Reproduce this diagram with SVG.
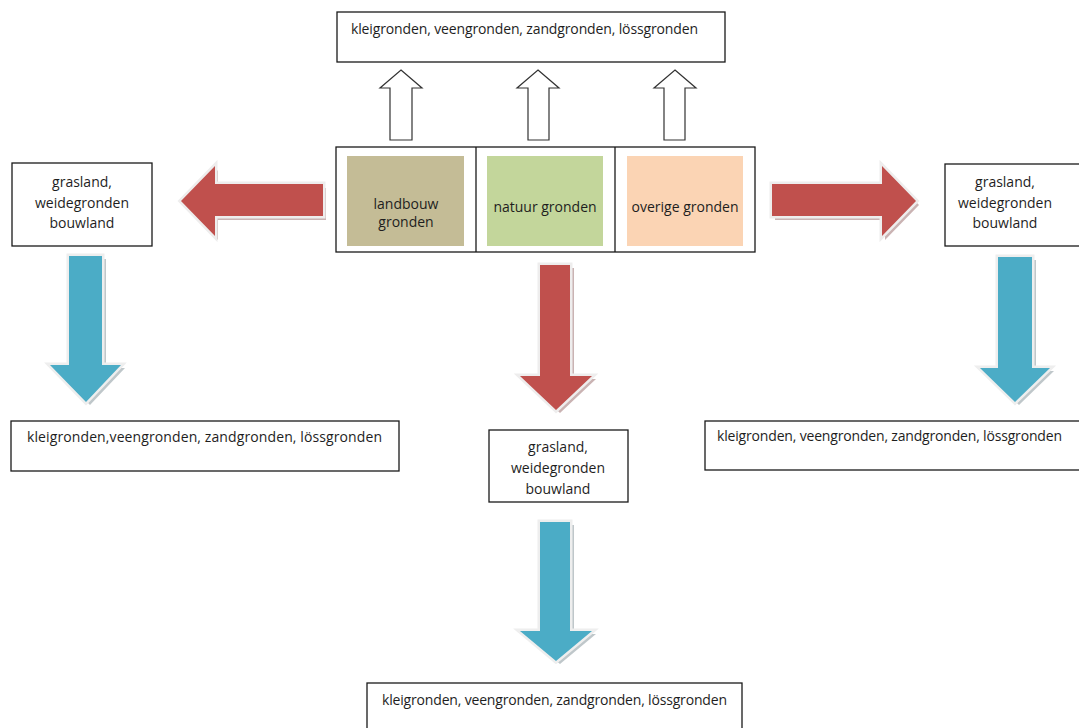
<svg xmlns="http://www.w3.org/2000/svg" width="1079" height="728" viewBox="0 0 1079 728">
<style>
.box{fill:#fff;stroke:#1a1a1a;stroke-width:1.3}
.t{font-family:"Open Sans","Liberation Sans",sans-serif;font-size:14px;fill:#1e1e1e}
.c{text-anchor:middle}
.red{fill:#C0504D;stroke:#EEEDED;stroke-width:5;stroke-linejoin:miter;paint-order:stroke}
.blue{fill:#4BACC6;stroke:#EEEEEE;stroke-width:5;stroke-linejoin:miter;paint-order:stroke}
.shR{fill:#B89A9A;opacity:0.75}
.shB{fill:#A9B4B8;opacity:0.75}
.up{fill:#fff;stroke:#333;stroke-width:1.2}
</style>
<rect width="1079" height="728" fill="#fff"/>

<g id="connectors">
  <!-- white up arrows -->
  <path class="up" d="M401,70 L422,88 L412,88 L412,140 L390,140 L390,88 L380,88 Z"/>
  <path class="up" d="M538,70 L559,88 L549,88 L549,140 L528,140 L528,88 L517,88 Z"/>
  <path class="up" d="M675,70 L696,88 L685,88 L685,140 L664,140 L664,88 L654,88 Z"/>
  <!-- left red arrow -->
  <path class="shR" transform="translate(3,4)" d="M181,201 L215,166 L215,184 L323,184 L323,216 L215,216 L215,236 Z"/>
  <path class="red" d="M181,201 L215,166 L215,184 L323,184 L323,216 L215,216 L215,236 Z"/>
  <!-- right red arrow -->
  <path class="shR" transform="translate(3,4)" d="M916,201 L882,166 L882,184 L772,184 L772,216 L882,216 L882,236 Z"/>
  <path class="red" d="M916,201 L882,166 L882,184 L772,184 L772,216 L882,216 L882,236 Z"/>
  <!-- center red down arrow -->
  <path class="shR" transform="translate(4,3)" d="M556,410 L520,376 L540,376 L540,265 L570,265 L570,376 L592,376 Z"/>
  <path class="red" d="M556,410 L520,376 L540,376 L540,265 L570,265 L570,376 L592,376 Z"/>
  <!-- left blue down arrow -->
  <path class="shB" transform="translate(4,3)" d="M86,402 L50,365 L69,365 L69,256 L102,256 L102,365 L121,365 Z"/>
  <path class="blue" d="M86,402 L50,365 L69,365 L69,256 L102,256 L102,365 L121,365 Z"/>
  <!-- right blue down arrow -->
  <path class="shB" transform="translate(4,3)" d="M1015,402 L980,368 L998,368 L998,257 L1032,257 L1032,368 L1050,368 Z"/>
  <path class="blue" d="M1015,402 L980,368 L998,368 L998,257 L1032,257 L1032,368 L1050,368 Z"/>
  <!-- center blue down arrow -->
  <path class="shB" transform="translate(4,3)" d="M556,661 L520,631 L540,631 L540,522 L570,522 L570,631 L592,631 Z"/>
  <path class="blue" d="M556,661 L520,631 L540,631 L540,522 L570,522 L570,631 L592,631 Z"/>
</g>

<g id="top-soils">
  <rect class="box" x="337" y="12" width="388" height="50"/>
  <text class="t" x="351" y="34" textLength="347" lengthAdjust="spacing">kleigronden, veengronden, zandgronden,  lössgronden</text>
</g>

<g id="main">
  <rect class="box" x="336" y="147" width="419" height="105"/>
  <line x1="476" y1="147" x2="476" y2="252" stroke="#1a1a1a" stroke-width="1.3"/>
  <line x1="615" y1="147" x2="615" y2="252" stroke="#1a1a1a" stroke-width="1.3"/>
</g>
<g id="landbouw">
  <rect x="347" y="156" width="117" height="90" fill="#C4BC96"/>
  <text class="t c" x="406" y="209">landbouw</text>
  <text class="t c" x="406" y="227">gronden</text>
</g>
<g id="natuur">
  <rect x="487" y="156" width="116" height="90" fill="#C3D69B"/>
  <text class="t c" x="545" y="212">natuur gronden</text>
</g>
<g id="overige">
  <rect x="627" y="156" width="116" height="90" fill="#FBD4B4"/>
  <text class="t c" x="685" y="212">overige gronden</text>
</g>

<g id="left-use">
  <rect class="box" x="12" y="163" width="140" height="83"/>
  <text class="t c" x="82" y="187">grasland,</text>
  <text class="t c" x="82" y="208">weidegronden</text>
  <text class="t c" x="82" y="228">bouwland</text>
</g>
<g id="right-use">
  <rect class="box" x="945" y="164" width="140" height="82"/>
  <text class="t c" x="1005" y="187">grasland,</text>
  <text class="t c" x="1005" y="208">weidegronden</text>
  <text class="t c" x="1005" y="228">bouwland</text>
</g>
<g id="center-use">
  <rect class="box" x="489" y="430" width="139" height="72"/>
  <text class="t c" x="558" y="452">grasland,</text>
  <text class="t c" x="558" y="473">weidegronden</text>
  <text class="t c" x="558" y="494">bouwland</text>
</g>

<g id="left-soils">
  <rect class="box" x="11" y="421" width="388" height="50"/>
  <text class="t" x="27" y="442" textLength="355" lengthAdjust="spacing">kleigronden,veengronden, zandgronden, lössgronden</text>
</g>
<g id="right-soils">
  <rect class="box" x="705" y="421" width="380" height="49"/>
  <text class="t" x="717" y="441" textLength="345" lengthAdjust="spacing">kleigronden, veengronden, zandgronden, lössgronden</text>
</g>
<g id="bottom-soils">
  <rect class="box" x="367" y="683" width="375" height="60"/>
  <text class="t" x="382" y="705" textLength="345" lengthAdjust="spacing">kleigronden, veengronden, zandgronden, lössgronden</text>
</g>
</svg>
